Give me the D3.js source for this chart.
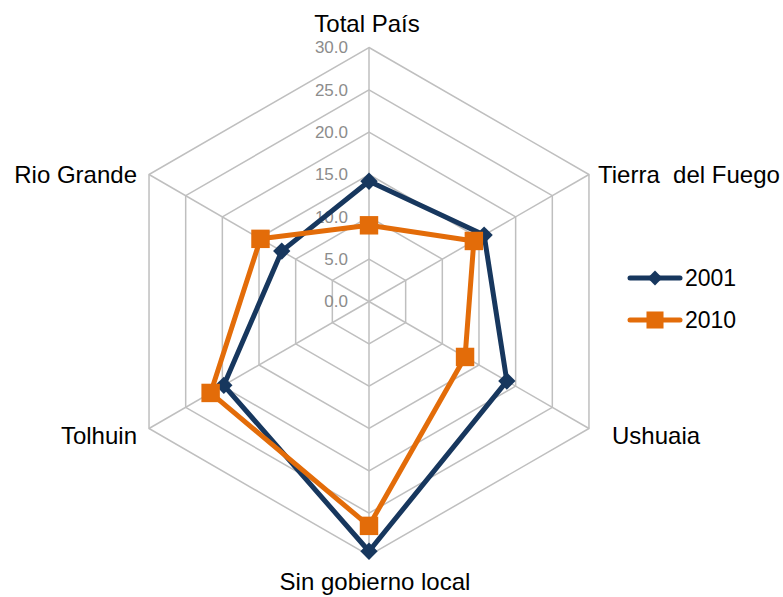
<!DOCTYPE html>
<html>
<head>
<meta charset="utf-8">
<script src="https://cdn.jsdelivr.net/npm/d3@7"></script>
<style>
	body { margin: 0; background: #fff; }
	svg { display: block; font-family: 'Liberation Sans', Arial, sans-serif; }
</style>
</head>
<body>
<svg id="chart"></svg>
<script>
//                       -------------                data ---------- start
let categories = ['Total País', 'Tierra  del Fuego', 'Ushuaia', 'Sin gobierno local', 'Tolhuin', 'Rio Grande']
let serie2001 = [14.2, 15.7, 18.8, 29.5, 19.8, 11.9]
let serie2010 = [9.0, 14.3, 13.1, 26.5, 21.6, 14.8]
let ticks = [0, 5, 10, 15, 20, 25, 30]
let seriesNames = ['2001', '2010']
//                       -------------                data ---------- end

let W = 783
let H = 597
let cx = 369
let cy = 301.5

let svg = d3.select('#chart')
	.attr('width', W)
	.attr('height', H)

let rScale = d3.scaleLinear()
	.domain([0, 30])
	.range([0, 254])

let angleScale = d3.scaleLinear()
	.domain([0, categories.length])
	.range([0, 2 * Math.PI])

function px(i, v) { return cx + Math.sin(angleScale(i)) * rScale(v) }
function py(i, v) { return cy - Math.cos(angleScale(i)) * rScale(v) }

// grid hexagons
let gridG = svg.append('g').attr('class', 'grid')

gridG.selectAll('polygon')
	.data(ticks.filter(t => t > 0))
	.enter()
	.append('polygon')
	.attr('points', t => categories.map((c, i) => `${px(i, t)},${py(i, t)}`).join(' '))
	.attr('fill', 'none')
	.attr('stroke', '#bfbfbf')
	.attr('stroke-width', 1.5)

gridG.selectAll('line')
	.data(categories)
	.enter()
	.append('line')
	.attr('x1', cx)
	.attr('y1', cy)
	.attr('x2', (d, i) => px(i, 30))
	.attr('y2', (d, i) => py(i, 30))
	.attr('stroke', '#bfbfbf')
	.attr('stroke-width', 1.5)

// tick labels along top axis
svg.append('g').selectAll('text')
	.data(ticks)
	.enter()
	.append('text')
	.attr('x', cx - 21)
	.attr('y', t => cy - rScale(t))
	.attr('dy', '0.35em')
	.attr('text-anchor', 'end')
	.attr('font-size', '17px')
	.attr('fill', '#8c8c8c')
	.text(t => d3.format('.1f')(t))

// category labels
let labelPos = [
	{dx: -2, dy: -278, anchor: 'middle'},
	{dx: 229, dy: -127, anchor: 'start'},
	{dx: 243, dy: 134, anchor: 'start'},
	{dx: 6, dy: 280, anchor: 'middle'},
	{dx: -232, dy: 134, anchor: 'end'},
	{dx: -232, dy: -127, anchor: 'end'}
]

svg.append('g').selectAll('text')
	.data(categories)
	.enter()
	.append('text')
	.attr('x', (d, i) => cx + labelPos[i].dx)
	.attr('y', (d, i) => cy + labelPos[i].dy)
	.attr('dy', '0.35em')
	.attr('text-anchor', (d, i) => labelPos[i].anchor)
	.attr('font-size', '24px')
	.attr('fill', '#000')
	.style('white-space', 'pre')
	.text(d => d)

// series
let colors = ['#17375e', '#e36c09']
let series = [serie2001, serie2010]

let lineGen = d3.line()
	.x(d => px(d.i, d.v))
	.y(d => py(d.i, d.v))
	.curve(d3.curveLinearClosed)

let diamond = d3.symbol().type(d3.symbolSquare).size(150)
let square = d3.symbol().type(d3.symbolSquare).size(340)

series.forEach((vals, s) => {
	let pts = vals.map((v, i) => ({i: i, v: v}))
	let g = svg.append('g').attr('class', 'serie' + seriesNames[s])

	g.append('path')
		.attr('d', lineGen(pts))
		.attr('fill', 'none')
		.attr('stroke', colors[s])
		.attr('stroke-width', 5)
		.attr('stroke-linejoin', 'round')

	g.selectAll('path.mk')
		.data(pts)
		.enter()
		.append('path')
		.attr('class', 'mk')
		.attr('d', s == 0 ? diamond() : square())
		.attr('transform', d => `translate(${px(d.i, d.v)},${py(d.i, d.v)})` + (s == 0 ? ' rotate(45)' : ''))
		.attr('fill', colors[s])
})

// legend
let legend = svg.append('g').attr('class', 'legend')

seriesNames.forEach((name, s) => {
	let ly = 278 + s * 42
	legend.append('line')
		.attr('x1', 630)
		.attr('x2', 680)
		.attr('y1', ly)
		.attr('y2', ly)
		.attr('stroke', colors[s])
		.attr('stroke-width', 5)
		.attr('stroke-linecap', 'round')
	legend.append('path')
		.attr('d', s == 0 ? d3.symbol().type(d3.symbolSquare).size(110)() : d3.symbol().type(d3.symbolSquare).size(290)())
		.attr('transform', `translate(655,${ly})` + (s == 0 ? ' rotate(45)' : ''))
		.attr('fill', colors[s])
	legend.append('text')
		.attr('x', 685)
		.attr('y', ly)
		.attr('dy', '0.35em')
		.attr('font-size', '23px')
		.text(name)
})
</script>
</body>
</html>
